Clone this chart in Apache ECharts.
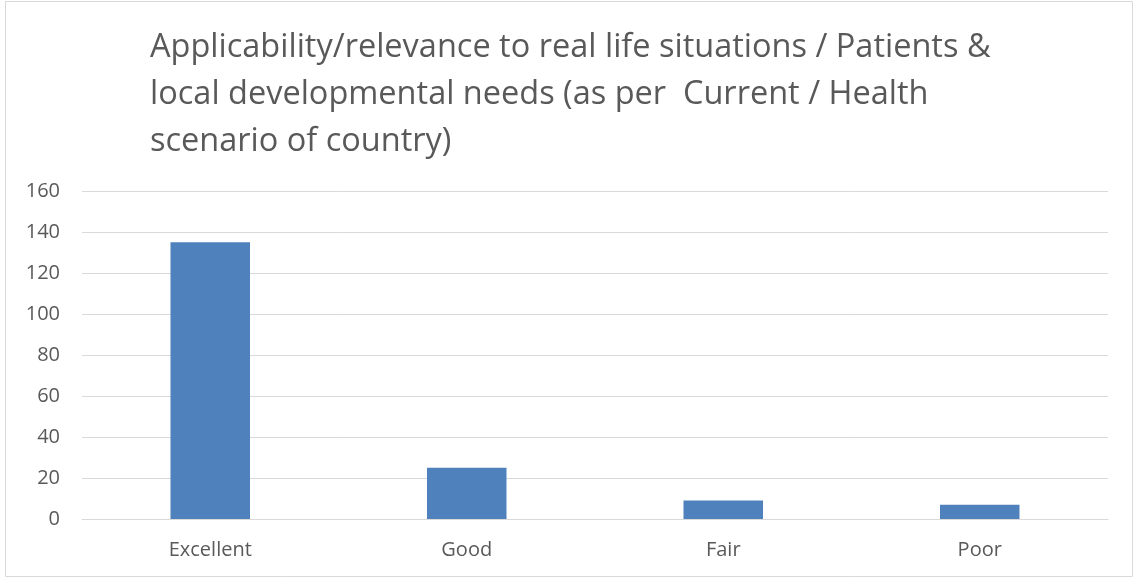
<!DOCTYPE html>
<html><head><meta charset="utf-8">
<script src="https://cdn.jsdelivr.net/npm/echarts@6/dist/echarts.min.js"></script>
<style>html,body{margin:0;padding:0;background:#fff}#c{width:1135px;height:579px}</style>
</head><body><div id="c"></div>
<script>
const titleLines = ["Applicability/relevance to real life situations / Patients &", "local developmental needs (as per  Current / Health", "scenario of country)"];
const categories = ["Excellent", "Good", "Fair", "Poor"];
const values = [135, 25, 9, 7];
const yTicks = {min: 0, max: 160, interval: 20};
const chart = echarts.init(document.getElementById('c'));
chart.setOption({
  animation: false,
  graphic: [{type: 'rect', shape: {x: 5.5, y: 1.5, width: 1127, height: 575}, style: {fill: 'none', stroke: '#d9d9d9', lineWidth: 1}}],
  title: {text: titleLines.join('\n'), left: 145, top: 19, textStyle: {fontFamily: 'Open Sans', fontWeight: 'normal', fontSize: 32.5, color: '#595959', lineHeight: 47}},
  grid: {left: 82, right: 27, top: 191, bottom: 60},
  xAxis: {type: 'category', data: categories, axisTick: {show: false}, axisLine: {lineStyle: {color: '#d9d9d9', width: 1}},
    axisLabel: {color: '#595959', fontSize: 20, fontFamily: 'Open Sans', margin: 21}},
  yAxis: {type: 'value', min: yTicks.min, max: yTicks.max, interval: yTicks.interval, axisLine: {show: false}, axisTick: {show: false},
    splitLine: {lineStyle: {color: '#d9d9d9', width: 1}}, axisLabel: {color: '#595959', fontSize: 20, fontFamily: 'Open Sans', margin: 22}},
  series: [{type: 'bar', data: values, barWidth: '31%', itemStyle: {color: '#4f81bd'}}]
});
</script></body></html>
